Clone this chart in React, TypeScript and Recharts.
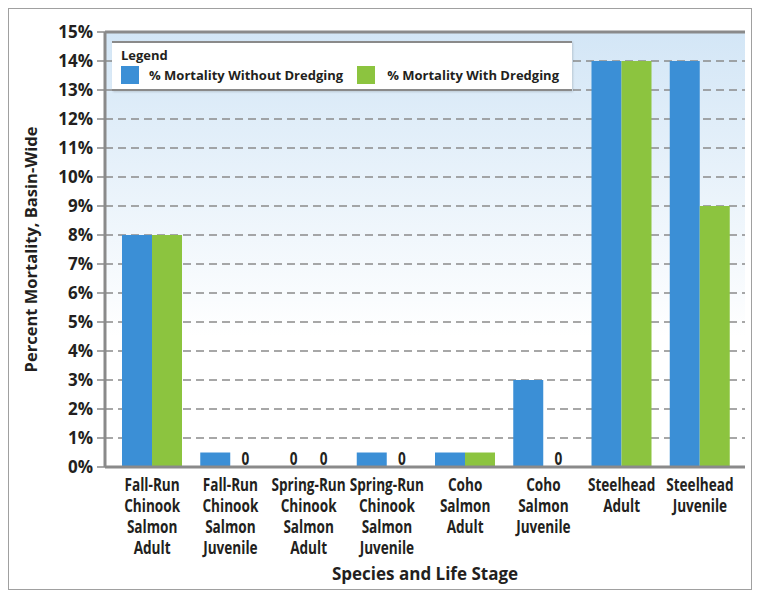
import React from "react";
import {
  BarChart,
  Bar,
  XAxis,
  YAxis,
  CartesianGrid,
  Legend,
  ReferenceLine,
  Label,
} from "recharts";

const categories = [
  ["Fall-Run", "Chinook", "Salmon", "Adult"],
  ["Fall-Run", "Chinook", "Salmon", "Juvenile"],
  ["Spring-Run", "Chinook", "Salmon", "Adult"],
  ["Spring-Run", "Chinook", "Salmon", "Juvenile"],
  ["Coho", "Salmon", "Adult"],
  ["Coho", "Salmon", "Juvenile"],
  ["Steelhead", "Adult"],
  ["Steelhead", "Juvenile"],
];
const withoutDredging = [8, 0.5, 0, 0.5, 0.5, 3, 14, 14];
const withDredging = [8, 0, 0, 0, 0.5, 0, 14, 9];
const yTicks = [0, 1, 2, 3, 4, 5, 6, 7, 8, 9, 10, 11, 12, 13, 14, 15];

const BLUE = "#3b8fd6";
const GREEN = "#8cc43f";
const INK = "#231f20";
const GRID = "#8a8a8a";
const FONT = "'Open Sans', 'DejaVu Sans', sans-serif";
const BAR_SIZE = 30;

const data = categories.map((lines, i) => ({
  name: lines.join(" "),
  without: withoutDredging[i],
  with: withDredging[i],
}));

// condensed bold text, squeezed horizontally like the original typeface
const Narrow = ({ x, y, children }: any) => (
  <g transform={`translate(${x},${y}) scale(0.8,1)`}>
    <text
      x={0}
      y={0}
      textAnchor="middle"
      fontFamily={FONT}
      fontWeight="bold"
      fontSize={17}
      fill={INK}
    >
      {children}
    </text>
  </g>
);

const CategoryTick = (props: any) => {
  const { x, y, index } = props;
  const lines = categories[index] || [];
  const pair = [withoutDredging[index], withDredging[index]];
  return (
    <g>
      {lines.map((l, i) => (
        <Narrow key={i} x={x} y={y + 24 + i * 21}>
          {l}
        </Narrow>
      ))}
      {/* "0" markers sit over the empty bar slots */}
      {pair.map((v, i) =>
        v === 0 ? (
          <Narrow key={"z" + i} x={x + (i === 0 ? -BAR_SIZE / 2 : BAR_SIZE / 2)} y={y - 2}>
            0
          </Narrow>
        ) : null
      )}
    </g>
  );
};

const LegendBox = () => (
  <div
    style={{
      background: "#fff",
      borderTop: "2px solid #8a8a8a",
      borderBottom: "2px solid #8a8a8a",
      boxShadow: "1px 1px 2px rgba(0,0,0,0.15)",
      width: 460,
      height: 50,
      boxSizing: "border-box",
      padding: "4px 0 0 9px",
      fontFamily: FONT,
      fontWeight: "bold",
      fontSize: 13,
      color: INK,
      textAlign: "left",
      whiteSpace: "nowrap",
    }}
  >
    <div style={{ lineHeight: "16px" }}>Legend</div>
    <div style={{ display: "flex", alignItems: "center", marginTop: 3 }}>
      <span style={{ width: 18, height: 18, background: BLUE, display: "inline-block", flex: "none" }} />
      <span style={{ marginLeft: 10 }}>% Mortality Without Dredging</span>
      <span
        style={{ width: 18, height: 18, background: GREEN, display: "inline-block", marginLeft: 14, flex: "none" }}
      />
      <span style={{ marginLeft: 12 }}>% Mortality With Dredging</span>
    </div>
  </div>
);

export default function App() {
  return (
    <div
      style={{
        width: 744,
        height: 582,
        border: "1px solid #a0a0a0",
        boxSizing: "border-box",
        background: "#fff",
      }}
    >
      <BarChart
        width={742}
        height={580}
        data={data}
        margin={{ top: 23, right: 6, bottom: 0, left: 0 }}
        barSize={BAR_SIZE}
        barGap={0}
      >
        <defs>
          <linearGradient id="bgGrad" x1="0" y1="0" x2="0" y2="1">
            <stop offset="0%" stopColor="#d3e6f6" />
            <stop offset="70%" stopColor="#ffffff" />
          </linearGradient>
        </defs>
        <CartesianGrid
          vertical={false}
          stroke={GRID}
          strokeWidth={1.5}
          strokeDasharray="8 5"
          fill="url(#bgGrad)"
          fillOpacity={1}
        />
        <XAxis
          dataKey="name"
          height={122}
          interval={0}
          tickLine={false}
          tickSize={0}
          tickMargin={0}
          padding={{ left: 8, right: 6 }}
          axisLine={{ stroke: GRID, strokeWidth: 3 }}
          tick={<CategoryTick />}
        >
          <Label
            value="Species and Life Stage"
            position="insideBottom"
            offset={9}
            fontFamily={FONT}
            fontWeight="bold"
            fontSize={17}
            fill={INK}
          />
        </XAxis>
        <YAxis
          width={96}
          domain={[0, 15]}
          ticks={yTicks}
          interval={0}
          tickFormatter={(v: number) => `${v}%`}
          tickSize={8}
          tickMargin={4}
          tickLine={{ stroke: GRID, strokeWidth: 1.5 }}
          axisLine={{ stroke: GRID, strokeWidth: 3 }}
          tick={{ fontFamily: FONT, fontWeight: "bold", fontSize: 17, fill: INK }}
        >
          <Label
            value="Percent Mortality, Basin-Wide"
            angle={-90}
            position="insideLeft"
            offset={22}
            style={{ textAnchor: "middle" }}
            fontFamily={FONT}
            fontWeight="bold"
            fontSize={16.5}
            fill={INK}
          />
        </YAxis>
        <YAxis
          yAxisId="right"
          orientation="right"
          width={0}
          domain={[0, 15]}
          tick={false}
          tickLine={false}
          axisLine={{ stroke: GRID, strokeWidth: 3 }}
        />
        <ReferenceLine y={15} stroke={GRID} strokeWidth={3} />
        <Legend
          layout="vertical"
          verticalAlign="middle"
          align="center"
          wrapperStyle={{ top: 32, left: 103, width: 460 }}
          content={() => <LegendBox />}
        />
        <Bar dataKey="without" name="% Mortality Without Dredging" fill={BLUE} isAnimationActive={false} />
        <Bar dataKey="with" name="% Mortality With Dredging" fill={GREEN} isAnimationActive={false} />
      </BarChart>
    </div>
  );
}
